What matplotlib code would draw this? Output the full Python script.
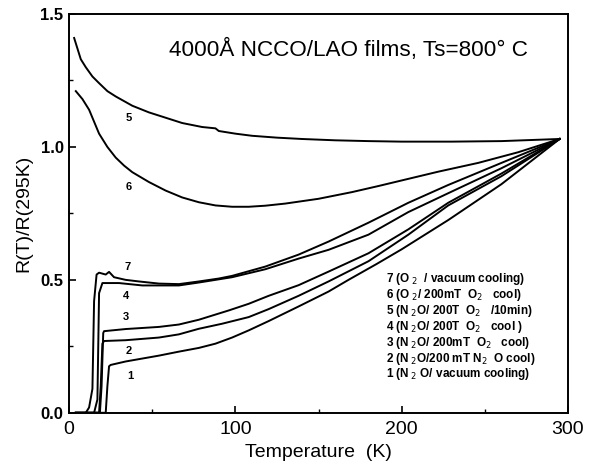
import matplotlib
matplotlib.use("Agg")
import matplotlib.pyplot as plt
from matplotlib.ticker import MultipleLocator

plt.rcParams["font.family"] = ["Liberation Sans", "DejaVu Sans"]

# curve data: temperature (K), R(T)/R(295K)
t5 = [3, 5, 7, 10, 14, 18, 23, 28, 38, 48, 58, 68, 80, 88, 90, 100, 110, 125, 140, 160, 180, 200, 230,
      260, 295]
r5 = [1.41, 1.37, 1.33, 1.30, 1.265, 1.24, 1.21, 1.19, 1.155, 1.13, 1.11, 1.09, 1.075, 1.07, 1.06,
      1.05, 1.042, 1.035, 1.03, 1.025, 1.022, 1.02, 1.02, 1.022, 1.03]

t6 = [4, 8, 12, 15, 18, 23, 28, 33, 38, 48, 58, 68, 78, 88, 98, 108, 118, 130, 150, 170, 186, 204,
      222, 246, 270, 295]
r6 = [1.21, 1.18, 1.14, 1.095, 1.05, 1.00, 0.96, 0.93, 0.905, 0.868, 0.836, 0.81, 0.792, 0.78,
      0.775, 0.775, 0.779, 0.787, 0.805, 0.83, 0.853, 0.88, 0.907, 0.94, 0.98, 1.03]

t7 = [4, 10, 12, 14, 15, 16.5, 18, 22, 24, 27, 34, 42, 54, 66, 78, 90, 98, 118, 138, 156, 180, 204,
      228, 260, 295]
r7 = [0, 0, 0.02, 0.09, 0.42, 0.52, 0.527, 0.52, 0.53, 0.51, 0.50, 0.494, 0.486, 0.484, 0.494, 0.505,
      0.515, 0.55, 0.595, 0.644, 0.715, 0.79, 0.857, 0.94, 1.03]

t4 = [4, 15, 17, 18, 20, 30, 44, 66, 78, 98, 118, 138, 156, 180, 204, 228, 260, 295]
r4 = [0, 0, 0.05, 0.45, 0.488, 0.488, 0.479, 0.479, 0.49, 0.51, 0.54, 0.58, 0.613, 0.67, 0.755,
      0.826, 0.92, 1.03]

t3 = [4, 18.5, 19.5, 20.5, 21, 34, 54, 66, 78, 96, 108, 120, 138, 156, 180, 204, 228, 260, 295]
r3 = [0, 0, 0.1, 0.3, 0.307, 0.315, 0.323, 0.332, 0.35, 0.385, 0.41, 0.44, 0.48, 0.531, 0.60, 0.69,
      0.79, 0.90, 1.03]

t2 = [4, 18, 19, 20, 21, 34, 54, 66, 78, 92, 108, 120, 138, 156, 180, 204, 228, 260, 295]
r2 = [0, 0, 0.1, 0.26, 0.27, 0.273, 0.283, 0.295, 0.316, 0.335, 0.36, 0.39, 0.44, 0.494, 0.57, 0.67,
      0.78, 0.89, 1.03]

t1 = [4, 22, 23, 24, 25, 34, 54, 66, 78, 88, 98, 108, 120, 138, 156, 168, 185, 200, 228, 260, 295]
r1 = [0, 0, 0.1, 0.175, 0.18, 0.193, 0.215, 0.23, 0.244, 0.26, 0.283, 0.31, 0.345, 0.40, 0.456,
      0.50, 0.56, 0.615, 0.725, 0.86, 1.03]

curve_ids = ["5", "6", "7", "4", "3", "2", "1"]
curve_t = [t5, t6, t7, t4, t3, t2, t1]
curve_r = [r5, r6, r7, r4, r3, r2, r1]
# where the small number sits next to each curve
label_t = [36, 36, 35, 34, 34, 36, 37]
label_r = [1.11, 0.85, 0.55, 0.44, 0.36, 0.233, 0.14]

legend_lines = [
    "7 (O$_{\\ 2}$  / vacuum cooling)",
    "6 (O$_{\\ 2}$/ 200mT  O$_2$   cool)",
    "5 (N$_{\\ 2}$O/ 200T  O$_2$   /10min)",
    "4 (N$_{\\ 2}$O/ 200T  O$_2$   cool )",
    "3 (N$_{\\ 2}$O/ 200mT  O$_2$   cool)",
    "2 (N$_{\\ 2}$O/200 mT N$_2$  O cool)",
    "1 (N$_{\\ 2}$ O/ vacuum cooling)",
]

fig = plt.figure(figsize=(5.91, 4.68), dpi=100)
ax = fig.add_axes([0.117, 0.118, 0.844, 0.852])

for t, r in zip(curve_t, curve_r):
    ax.plot(t, r, color="black", lw=1.4)

for cid, lt, lr in zip(curve_ids, label_t, label_r):
    ax.text(lt, lr, cid, fontsize=8, fontweight="bold", ha="center", va="center")

for i, line in enumerate(legend_lines):
    ax.text(190.5, 0.504 - i * 0.06, line, fontsize=8.5, fontweight="bold",
            ha="left", va="center")

ax.text(60, 1.365, "4000Å NCCO/LAO films, Ts=800° C", fontsize=16.2, ha="left", va="center")

ax.set_xlim(0, 300)
ax.set_ylim(0, 1.5)
ax.xaxis.set_major_locator(MultipleLocator(100))
ax.xaxis.set_minor_locator(MultipleLocator(50))
ax.yaxis.set_major_locator(MultipleLocator(0.5))
ax.yaxis.set_minor_locator(MultipleLocator(0.25))
ax.tick_params(which="both", direction="in", top=False, right=False)
ax.tick_params(which="major", length=5, width=1.2)
ax.tick_params(which="minor", length=3, width=1)
ax.tick_params(axis="x", labelsize=14, pad=6)
ax.tick_params(axis="y", labelsize=12, pad=4)
ax.set_yticks([0, 0.5, 1.0, 1.5], ["0.0", "0.5", "1.0", "1.5"], fontweight="bold")
for s in ax.spines.values():
    s.set_linewidth(1.4)

ax.set_xlabel("Temperature  (K)", fontsize=14, labelpad=4)
ax.set_ylabel("R(T)/R(295K)", fontsize=14, labelpad=6)

fig.savefig("out.png", dpi=100, facecolor="white")
